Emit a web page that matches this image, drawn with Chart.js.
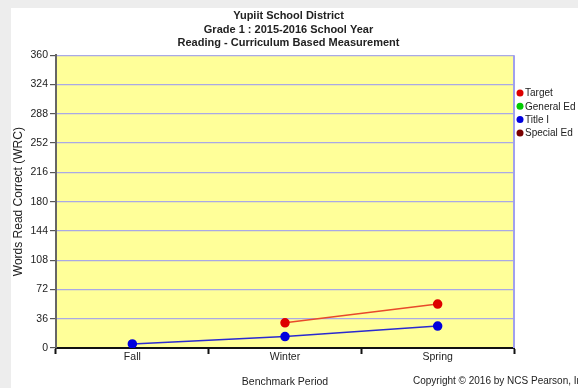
<!DOCTYPE html>
<html>
<head>
<meta charset="utf-8">
<script src="https://cdn.jsdelivr.net/npm/chart.js@4.4.1/dist/chart.umd.min.js"></script>
<style>
  html, body { margin: 0; padding: 0; background: #ededed; }
  #wrap { position: absolute; left: 11px; top: 8px; width: 567px; height: 380px; background: #fff; }
</style>
</head>
<body>
<div id="wrap"><canvas id="chart" width="567" height="380"></canvas></div>
<script>
const PERIODS = ["Fall", "Winter", "Spring"];
const TARGET = [null, 31, 54];
const GENERAL_ED = [null, null, null];
const TITLE_I = [5, 14, 27];
const SPECIAL_ED = [null, null, null];
const Y_MAX = 360;
const Y_STEP = 36;
const TITLE_LINES = [
  "Yupiit School District",
  "Grade 1 : 2015-2016 School Year",
  "Reading - Curriculum Based Measurement",
];
const FONT = "'Liberation Sans', Arial, sans-serif";

// yellow plot background + right border
const plotBg = {
  id: "plotBg",
  beforeDraw(chart) {
    const { ctx, chartArea: a } = chart;
    ctx.save();
    ctx.fillStyle = "#ffff99";
    ctx.fillRect(a.left, a.top, a.right - a.left, a.bottom - a.top);
    ctx.restore();
  },
  afterDatasetsDraw(chart) {
    const { ctx, chartArea: a } = chart;
    ctx.save();
    ctx.strokeStyle = "#a0a0ee";
    ctx.lineWidth = 2;
    ctx.beginPath();
    ctx.moveTo(a.right, a.top);
    ctx.lineTo(a.right, a.bottom);
    ctx.stroke();
    ctx.restore();
  },
};

// legend at right + copyright line
const sideText = {
  id: "sideText",
  afterDraw(chart) {
    const { ctx, chartArea: a } = chart;
    ctx.save();
    ctx.font = "10px " + FONT;
    ctx.textBaseline = "middle";
    chart.data.datasets.forEach((ds, i) => {
      const y = 85 + i * 13.3;
      ctx.fillStyle = ds.pointBackgroundColor;
      ctx.beginPath();
      ctx.arc(a.right + 6, y, 3.5, 0, Math.PI * 2);
      ctx.fill();
      ctx.fillStyle = "#222";
      ctx.fillText(ds.label, a.right + 11, y + 0.5);
    });
    ctx.fillText("Copyright \u00A9 2016 by NCS Pearson, Inc.", 402, 373);
    ctx.restore();
  },
};

function series(label, data, color, lineColor) {
  return {
    label,
    data,
    borderColor: lineColor,
    backgroundColor: color,
    pointBackgroundColor: color,
    pointBorderColor: color,
    pointRadius: 4,
    pointHoverRadius: 4,
    borderWidth: 1.5,
    tension: 0,
    spanGaps: false,
  };
}

new Chart(document.getElementById("chart"), {
  type: "line",
  data: {
    labels: PERIODS,
    datasets: [
      series("Target", TARGET, "#dd0000", "#e84a2a"),
      series("General Ed", GENERAL_ED, "#00cc00", "#00cc00"),
      series("Title I", TITLE_I, "#0000dd", "#2a2ad0"),
      series("Special Ed", SPECIAL_ED, "#7a0000", "#7a0000"),
    ],
  },
  options: {
    responsive: false,
    animation: false,
    layout: { padding: { left: 0, right: 12, top: 0, bottom: 0 } },
    plugins: {
      legend: { display: false },
      tooltip: { enabled: false },
      title: {
        display: true,
        text: TITLE_LINES,
        color: "#222",
        font: { family: FONT, size: 11, weight: "bold", lineHeight: 1.25 },
        padding: { top: 1, bottom: 5 },
      },
    },
    scales: {
      x: {
        offset: true,
        grid: {
          offset: true,
          drawOnChartArea: false,
          drawTicks: true,
          tickLength: 6,
          tickColor: "#111",
          tickWidth: 2,
        },
        border: { color: "#111", width: 2 },
        ticks: { color: "#222", font: { family: FONT, size: 10.5 }, padding: -3 },
        title: {
          display: true,
          text: "Benchmark Period",
          color: "#222",
          font: { family: FONT, size: 10.5 },
          padding: { top: 0, bottom: 0 },
        },
        afterFit(s) { s.height = 40; },
      },
      y: {
        min: 0,
        max: Y_MAX,
        ticks: {
          stepSize: Y_STEP,
          color: "#222",
          font: { family: FONT, size: 10.5 },
          padding: 2,
        },
        grid: {
          color: "#a9a9e6",
          lineWidth: 1.2,
          tickLength: 6,
          tickColor: "#555",
        },
        border: { color: "#666", width: 2 },
        title: {
          display: true,
          text: "Words Read Correct (WRC)",
          color: "#222",
          font: { family: FONT, size: 12 },
          padding: { top: 0, bottom: 2 },
        },
        afterFit(s) { s.width = 45; },
      },
      // empty right-hand axis only reserves the legend's room
      y2: {
        position: "right",
        display: true,
        min: 0,
        max: Y_MAX,
        ticks: { display: false },
        grid: { display: false },
        border: { display: false },
        afterFit(s) { s.width = 52; },
      },
    },
  },
  plugins: [plotBg, sideText],
});
</script>
</body>
</html>
